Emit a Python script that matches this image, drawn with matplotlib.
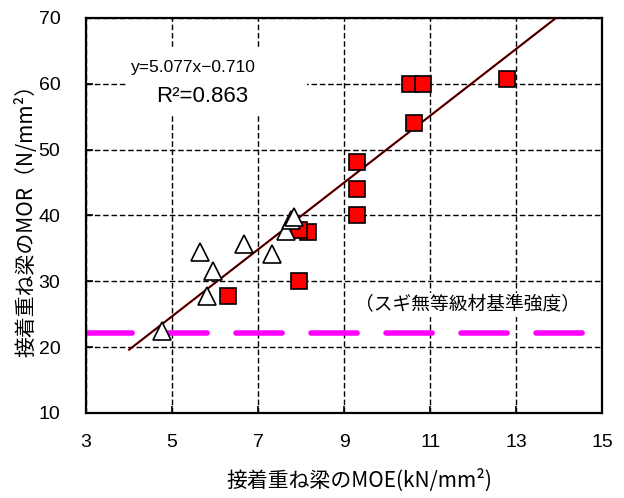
import matplotlib
matplotlib.use('Agg')
import matplotlib.pyplot as plt
import numpy as np

# 接着重ね梁 (red squares)
moe_beam = [6.29, 7.96, 8.17, 7.94, 9.31, 9.31, 9.31, 10.63, 10.53, 10.83, 12.78]
mor_beam = [27.7, 30.1, 37.5, 37.8, 40.1, 44.0, 48.1, 54.1, 60.0, 60.0, 60.7]

# white triangles
moe_tri = [4.76, 5.82, 5.96, 5.64, 6.67, 7.32, 7.65, 7.77, 7.84]
mor_tri = [22.5, 27.7, 31.6, 34.5, 35.6, 34.2, 37.7, 39.3, 39.8]

slope, intercept = 5.077, -0.710
r2 = 0.863
fit_x = [4.0, 14.0]
base_strength = 22.2

xticks = [3, 5, 7, 9, 11, 13, 15]
yticks = [10, 20, 30, 40, 50, 60, 70]

plt.rcParams['font.family'] = ['Liberation Sans', 'DejaVu Sans']
jp = ['Noto Sans CJK JP', 'DejaVu Sans']

fig = plt.figure(figsize=(6.24, 4.98), dpi=100)
ax = fig.add_axes([0.138, 0.171, 0.827, 0.793])

ax.grid(True, color='black', linestyle=(0, (4, 2)), linewidth=1.0, zorder=1)
ax.set_axisbelow(True)

# standard strength line
ax.axhline(base_strength, color='#FF00FF', linewidth=4, solid_capstyle='round',
           dash_capstyle='round', dashes=(8.3, 5.2), zorder=2)

# trend line
fx = np.array(fit_x)
fy = slope * fx + intercept
ax.plot(fx, fy, color='#cc0000', linewidth=1.6, zorder=3)
ax.plot(fx, fy, color='black', linewidth=0.9, zorder=3)

ax.plot(moe_beam, mor_beam, linestyle='none', marker='s', markersize=11.5,
        markerfacecolor='#FF0000', markeredgecolor='black', markeredgewidth=1.2, zorder=4)
ax.plot(moe_tri, mor_tri, linestyle='none', marker='^', markersize=13.5,
        markerfacecolor='white', markeredgecolor='black', markeredgewidth=1.2, zorder=5)

# equation box
ax.add_patch(plt.Rectangle((3.98, 55.3), 4.16, 10.3, facecolor='white',
                           edgecolor='none', zorder=2.5))
ax.text(5.49, 62.4, 'y=5.077x\u22120.710', fontsize=12.5, ha='center', va='center', zorder=6)
ax.text(5.70, 58.0, 'R\u00b2=%.3f' % r2, fontsize=16, ha='center', va='center', zorder=6)
ax.text(11.88, 26.4, '（スギ無等級材基準強度）', fontsize=13.5, ha='center', va='center',
        family=jp, zorder=6,
        bbox=dict(boxstyle='square,pad=0.1', facecolor='white', edgecolor='none'))

ax.set_xlim(3, 15)
ax.set_ylim(10, 70)
ax.set_xticks(xticks)
ax.set_yticks(yticks)
ax.tick_params(direction='in', length=5, width=1.2, labelsize=14)
ax.tick_params(axis='x', pad=15)
ax.tick_params(axis='y', pad=18.5)
for s in ax.spines.values():
    s.set_linewidth(1.6)

ax.set_xlabel('接着重ね梁のMOE(kN/mm\u00b2)', family=jp, fontsize=15)
ax.set_ylabel('接着重ね梁のMOR（N/mm\u00b2）', family=jp, fontsize=15, labelpad=1)
ax.xaxis.set_label_coords(0.529, -0.141)

fig.savefig('out.png', dpi=100)
